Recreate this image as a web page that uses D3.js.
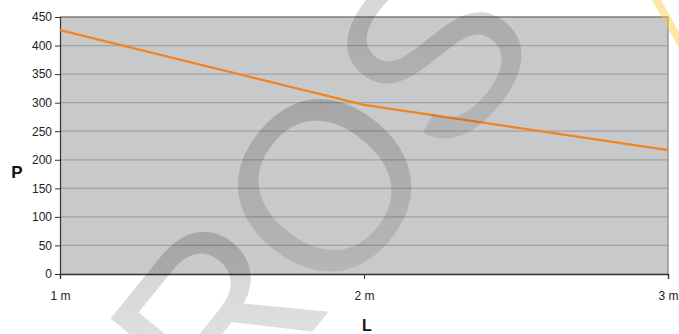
<!DOCTYPE html>
<html><head><meta charset="utf-8">
<script src="https://cdn.jsdelivr.net/npm/d3@7"></script>
<style>body{margin:0;background:#fff}svg{display:block}</style>
</head><body>
<script>
const xCategories = [1, 2, 3];
const xTickLabels = ["1 m", "2 m", "3 m"];
const pValues = [427, 296, 217];
const yTicks = [0, 50, 100, 150, 200, 250, 300, 350, 400, 450];
const watermarkLetters = ["R", "O", "S"];

const W = 679, H = 334;
const m = {left: 60, right: 11, top: 17, bottom: 60};
const svg = d3.select("body").append("svg").attr("width", W).attr("height", H);

const x = d3.scaleLinear().domain([1, 3]).range([m.left, W - m.right]);
const y = d3.scaleLinear().domain([0, 450]).range([H - m.bottom, m.top]);

svg.append("rect").attr("x", x(1)).attr("y", y(450))
  .attr("width", x(3) - x(1)).attr("height", y(0) - y(450)).attr("fill", "#c8c9cb");

// gridlines
svg.append("g").selectAll("line").data(yTicks.filter(d => d > 0)).join("line")
  .attr("x1", x(1)).attr("x2", x(3)).attr("y1", d => y(d)).attr("y2", d => y(d))
  .attr("stroke", d => d === 450 ? "#7d7d7d" : "#a2a2a4").attr("stroke-width", 1.3);
svg.append("line").attr("x1", x(3)).attr("x2", x(3)).attr("y1", y(450)).attr("y2", y(0))
  .attr("stroke", "#8a8a8a").attr("stroke-width", 1.3);

// y axis
const yAxis = svg.append("g").attr("transform", `translate(${x(1)},0)`)
  .call(d3.axisLeft(y).tickValues(yTicks).tickSize(5).tickPadding(3));
yAxis.select(".domain").attr("stroke", "#333").attr("stroke-width", 1.2);
yAxis.selectAll(".tick line").attr("stroke", "#333");
yAxis.selectAll("text").attr("font-family", "Liberation Sans, Arial, sans-serif")
  .attr("font-size", 12).attr("fill", "#222");

// x axis
const xAxis = svg.append("g").attr("transform", `translate(0,${y(0)})`)
  .call(d3.axisBottom(x).tickValues(xCategories).tickFormat((d, i) => xTickLabels[i]).tickSize(5).tickPadding(12));
xAxis.select(".domain").attr("stroke", "#333").attr("stroke-width", 1.4);
xAxis.selectAll(".tick line").attr("stroke", "#333");
xAxis.selectAll("text").attr("font-family", "Liberation Sans, Arial, sans-serif")
  .attr("font-size", 12).attr("fill", "#222");

// line
svg.append("path").datum(pValues)
  .attr("d", d3.line().x((d, i) => x(xCategories[i])).y(d => y(d)))
  .attr("fill", "none").attr("stroke", "#f5821f").attr("stroke-width", 2.3);

// axis titles
svg.append("text").attr("x", 17).attr("y", 178).attr("text-anchor", "middle")
  .attr("font-family", "Liberation Sans, Arial, sans-serif").attr("font-weight", "bold")
  .attr("font-size", 17).attr("fill", "#111").text("P");
svg.append("text").attr("x", 367).attr("y", 331).attr("text-anchor", "middle")
  .attr("font-family", "Liberation Sans, Arial, sans-serif").attr("font-weight", "bold")
  .attr("font-size", 16).attr("fill", "#111").text("L");

// watermark
const defs = svg.append("defs");
const g = defs.append("linearGradient").attr("id", "wm").attr("gradientUnits", "userSpaceOnUse")
  .attr("x1", 150).attr("y1", 334).attr("x2", 500).attr("y2", 0);
g.append("stop").attr("offset", 0).attr("stop-color", "#000").attr("stop-opacity", 0.08);
g.append("stop").attr("offset", 1).attr("stop-color", "#000").attr("stop-opacity", 0.3);
const centers = [[214, 316], [322, 183], [430, 50]];
svg.append("g").selectAll("text").data(watermarkLetters).join("text")
  .attr("transform", (d, i) => `translate(${centers[i][0]},${centers[i][1]}) rotate(-51)`)
  .attr("text-anchor", "middle").attr("dy", "0.36em")
  .attr("font-family", "Liberation Sans, Arial, sans-serif").attr("font-size", 240)
  .attr("fill", "url(#wm)").text(d => d);
svg.append("polygon").attr("points", "652,0 661,0 679,32 679,48")
  .attr("fill", "#fcc844").attr("fill-opacity", 0.45);
</script>
</body></html>
